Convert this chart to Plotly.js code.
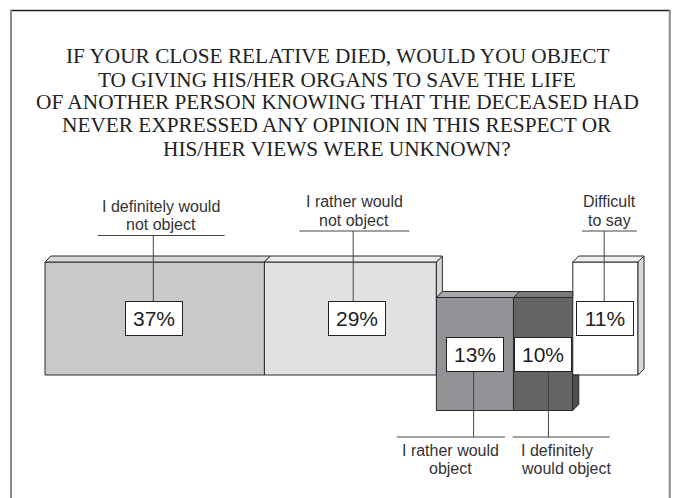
<!DOCTYPE html>
<html><head><meta charset="utf-8">
<script src="https://cdn.plot.ly/plotly-3.0.1.min.js"></script>
<style>html,body{margin:0;padding:0;background:#fff;} #chart{width:676px;height:498px;}</style>
</head><body><div id="chart"></div>
<script>
// ---------- data ----------
const titleLines = [
  "IF YOUR CLOSE RELATIVE DIED, WOULD YOU OBJECT",
  "TO GIVING HIS/HER ORGANS TO SAVE THE LIFE",
  "OF ANOTHER PERSON KNOWING THAT THE DECEASED HAD",
  "NEVER EXPRESSED ANY OPINION IN THIS RESPECT OR",
  "HIS/HER VIEWS WERE UNKNOWN?"
];
const categories = [
  "I definitely would<br>not object",
  "I rather would<br>not object",
  "I rather would<br>object",
  "I definitely<br>would object",
  "Difficult<br>to say"
];
const values = [37, 29, 13, 10, 11];
const placement = ["above", "above", "below", "below", "above"];

// ---------- styling / layout constants ----------
const W = 676, H = 498;
const X0 = 45, PXU = 5.93;        // pixel of 0%, pixels per percent
const Y0 = 375, PYU = 113;        // pixel of bar base, pixels per bar height
const DROP = 35.5 / PYU;          // downward shift of the "object" bars
const DEPTH = 6;                  // 3D depth in px
const dx = DEPTH / PXU, dy = DEPTH / PYU;
const frontColors = ['#c8c9cb', '#e1e2e4', '#929396', '#636466', '#ffffff'];
const topColors   = ['#d7d8da', '#ececee', '#a7a8ab', '#78797b', '#efeff0'];
const sideColors  = ['#b4b5b7', '#d6d7d9', '#7c7d80', '#4e4f51', '#d8d9db'];
const edge = '#2b2b2b';
const labelDx = [6.5, 4, -24, 18, 4];       // px, underline centre vs bar centre
const labelDy = [4.5, 0, 0, 0, 0];          // px, extra downward shift of upper labels
const underlineW = [127, 110, 108, 97, 55];
const leaderDx = [-1.4, 2.8, -1.3, 5.3, -1.2];
const boxDx = [-1, 6.5, 0, 0, 0];
const labelAlign = ['center', 'center', 'center', 'left', 'center'];

// ---------- derived ----------
const n = values.length;
const leftEdge = []; let acc = 0;
values.forEach(v => { leftEdge.push(acc); acc += v; });
const centers = leftEdge.map((l, i) => l + values[i] / 2);
const barBase = placement.map(p => p === 'above' ? 0 : -DROP);
const barTop = barBase.map(b => b + 1);

const traces = [];
traces.push({
  type: 'bar', x: centers, y: barBase.map(() => 1), base: barBase, width: values,
  marker: {color: frontColors, line: {color: edge, width: 1}},
  hoverinfo: 'skip', showlegend: false
});

function poly(pts, color) {
  const xs = pts.map(p => p[0]), ys = pts.map(p => p[1]);
  xs.push(pts[0][0]); ys.push(pts[0][1]);
  traces.push({type: 'scatter', mode: 'lines', x: xs, y: ys, fill: 'toself',
    fillcolor: color, line: {color: edge, width: 1}, hoverinfo: 'skip', showlegend: false});
}

for (let i = 0; i < n; i++) {
  const l = leftEdge[i], r = leftEdge[i] + values[i], t = barTop[i], b = barBase[i];
  if (i === n - 1) {
    poly([[r, t], [r + dx, t + dy], [r + dx, b + dy], [r, b]], sideColors[i]);
  } else {
    const tn = barTop[i + 1], bn = barBase[i + 1];
    if (tn < t) poly([[r, t], [r + dx, t + dy], [r + dx, tn + dy], [r, tn]], sideColors[i]);
    if (bn > b) poly([[r, bn], [r + dx, bn], [r + dx, b + dy], [r, b]], sideColors[i]);
  }
  const clip = (i < n - 1 && barTop[i + 1] > t);
  const rEnd = clip ? r : r + dx;
  poly([[l, t], [l + dx, t + dy], [rEnd, t + dy], [r, t]], topColors[i]);
}

const annotations = [];
const shapes = [];
const titleY = [56.4, 79.7, 102.2, 125.4, 148.7];
titleLines.forEach((s, k) => annotations.push({
  xref: 'paper', yref: 'paper', x: 337 / W, y: 1 - titleY[k] / H,
  xanchor: 'center', yanchor: 'middle', showarrow: false, text: s,
  font: {family: 'Liberation Serif', size: 21.3, color: '#222'}
}));

for (let i = 0; i < n; i++) {
  const cx = centers[i];
  const mid = barBase[i] + 0.5;
  annotations.push({
    x: cx + boxDx[i] / PXU, y: mid, xref: 'x', yref: 'y', showarrow: false,
    text: values[i] + '%', xanchor: 'center', yanchor: 'middle',
    font: {family: 'Liberation Sans', size: 21, color: '#1e1e1e'},
    bgcolor: '#ffffff', bordercolor: '#222', borderwidth: 1, borderpad: 1,
    width: 54, height: 31
  });
  const lines = categories[i].split('<br>');
  const ux = cx + labelDx[i] / PXU;
  const halfU = underlineW[i] / 2 / PXU;
  let uy, lineY;
  if (placement[i] === 'above') {
    uy = barTop[i] + (31 - labelDy[i]) / PYU;
    lineY = [barTop[i] + (60.5 - labelDy[i]) / PYU, barTop[i] + (42 - labelDy[i]) / PYU];
  } else {
    uy = barBase[i] - 26.5 / PYU;
    lineY = [barBase[i] - 39.5 / PYU, barBase[i] - 57.7 / PYU];
  }
  shapes.push({type: 'line', xref: 'x', yref: 'y', x0: ux - halfU, x1: ux + halfU, y0: uy, y1: uy,
    line: {color: '#444', width: 1}});
  const lx = cx + leaderDx[i] / PXU;
  shapes.push({type: 'line', xref: 'x', yref: 'y', x0: lx, x1: lx, y0: uy, y1: mid,
    line: {color: '#444', width: 1}});
  lines.forEach((s, k) => {
    const isLeft = labelAlign[i] === 'left';
    annotations.push({
      x: isLeft ? ux - halfU + 6.8 / PXU : ux, y: lineY[k], xref: 'x', yref: 'y',
      showarrow: false, text: s, xanchor: isLeft ? 'left' : 'center', yanchor: 'middle',
      font: {family: 'Liberation Sans', size: 16, color: '#333'}
    });
  });
}

shapes.push({type: 'line', xref: 'paper', yref: 'paper', x0: 10 / W, x1: 669.5 / W, y0: 1 - 10.5 / H, y1: 1 - 10.5 / H,
  line: {color: '#222', width: 1.3}});
shapes.push({type: 'line', xref: 'paper', yref: 'paper', x0: 11 / W, x1: 11 / W, y0: 1 - 10 / H, y1: 0,
  line: {color: '#8a8a8a', width: 2}});
shapes.push({type: 'line', xref: 'paper', yref: 'paper', x0: 669.8 / W, x1: 669.8 / W, y0: 1 - 10 / H, y1: 0,
  line: {color: '#8a8a8a', width: 2}});

const layout = {
  width: W, height: H, margin: {l: 0, r: 0, t: 0, b: 0},
  paper_bgcolor: '#fff', plot_bgcolor: '#fff', showlegend: false,
  barmode: 'overlay',
  xaxis: {range: [-X0 / PXU, (W - X0) / PXU], visible: false, fixedrange: true},
  yaxis: {range: [-(H - Y0) / PYU, Y0 / PYU], visible: false, fixedrange: true},
  annotations: annotations, shapes: shapes
};
Plotly.newPlot('chart', traces, layout, {displayModeBar: false, staticPlot: true});
</script></body></html>
